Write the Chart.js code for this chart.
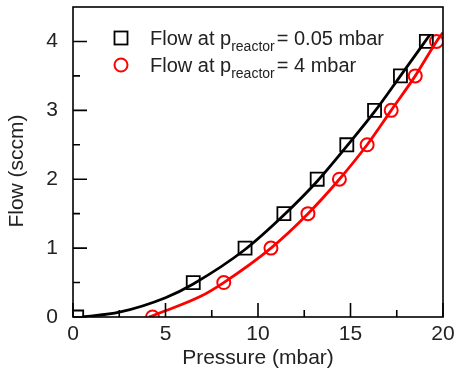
<!DOCTYPE html>
<html>
<head>
<meta charset="utf-8">
<script src="https://cdn.jsdelivr.net/npm/chart.js@4/dist/chart.umd.min.js"></script>
<style>
  html, body { margin: 0; padding: 0; background: #fff; }
  #wrap { width: 458px; height: 377px; }
</style>
</head>
<body>
<div id="wrap"><canvas id="c" width="458" height="377"></canvas></div>
<script>
// measured points, flow (sccm) vs pressure (mbar)
const flowLevels = [0, 0.5, 1, 1.5, 2, 2.5, 3, 3.5, 4];
const pressureLow = [0.2, 6.5, 9.3, 11.4, 13.2, 14.8, 16.3, 17.7, 19.1];    // p_reactor = 0.05 mbar
const pressureHigh = [4.3, 8.15, 10.7, 12.7, 14.4, 15.9, 17.2, 18.5, 19.65]; // p_reactor = 4 mbar

// fit curves
const fitLowP = [0.5, 2.5, 5, 6.5, 9.3, 11.4, 13.2, 14.8, 16.3, 17.7, 19.3];
const fitLowF = [0, 0.07, 0.28, 0.48, 0.98, 1.48, 1.97, 2.48, 2.98, 3.5, 4.1];
const fitHighP = [4.1, 5, 6.9, 8.15, 10.7, 12.7, 14.4, 15.9, 17.2, 18.5, 19.65, 20];
const fitHighF = [0, 0.09, 0.3, 0.5, 1, 1.5, 2, 2.5, 3, 3.5, 4, 4.13];

const legendLabels = ["= 0.05 mbar", "= 4 mbar"];
const yTitle = "Flow (sccm)";

const xMajor = [0, 5, 10, 15, 20];
const xMinor = [2.5, 7.5, 12.5, 17.5];
const yMajor = [0, 1, 2, 3, 4];
const yMinor = [0.5, 1.5, 2.5, 3.5];

const pts = (xs, ys) => xs.map((x, i) => ({ x, y: ys[i] }));

const FONT = "'Liberation Sans', Arial, sans-serif";
const TXT = "#222";

const frame = {
  id: "frame",
  afterDatasetsDraw(chart) {
    const { ctx, chartArea: a, scales: { x, y } } = chart;
    ctx.save();
    ctx.strokeStyle = "#000";
    ctx.lineWidth = 1.6;
    ctx.beginPath();
    xMajor.forEach(v => { const px = x.getPixelForValue(v); ctx.moveTo(px, a.bottom); ctx.lineTo(px, a.bottom - 14); });
    xMinor.forEach(v => { const px = x.getPixelForValue(v); ctx.moveTo(px, a.bottom); ctx.lineTo(px, a.bottom - 7); });
    yMajor.forEach(v => { const py = y.getPixelForValue(v); ctx.moveTo(a.left, py); ctx.lineTo(a.left + 14, py); });
    yMinor.forEach(v => { const py = y.getPixelForValue(v); ctx.moveTo(a.left, py); ctx.lineTo(a.left + 7, py); });
    ctx.stroke();
    ctx.strokeRect(a.left, a.top, a.right - a.left, a.bottom - a.top);

    // legend
    const rows = [38, 65];
    const mx = 121, tx = 150;
    rows.forEach((ry, i) => {
      if (i === 0) {
        ctx.strokeStyle = "#000"; ctx.lineWidth = 1.8;
        ctx.strokeRect(mx - 6.5, ry - 6.5, 13, 13);
      } else {
        ctx.strokeStyle = "#ff0000"; ctx.lineWidth = 2;
        ctx.beginPath(); ctx.arc(mx, ry, 6.5, 0, Math.PI * 2); ctx.stroke();
      }
      ctx.fillStyle = TXT;
      ctx.textBaseline = "alphabetic";
      ctx.textAlign = "left";
      const base = ry + 7;
      ctx.font = "20px " + FONT;
      ctx.fillText("Flow at p", tx, base);
      let cx = tx + ctx.measureText("Flow at p").width;
      ctx.font = "14px " + FONT;
      ctx.fillText("reactor", cx, base + 6);
      cx += ctx.measureText("reactor").width + 2;
      ctx.font = "20px " + FONT;
      ctx.fillText(legendLabels[i], cx, base);
    });

    // y axis title
    ctx.translate(17, 171);
    ctx.rotate(-Math.PI / 2);
    ctx.textAlign = "center";
    ctx.textBaseline = "middle";
    ctx.font = "21px " + FONT;
    ctx.fillText(yTitle, 0, 0);
    ctx.restore();
  }
};

new Chart(document.getElementById("c"), {
  type: "scatter",
  data: {
    datasets: [
      {
        data: pts(fitLowP, fitLowF), showLine: true, borderColor: "#000", borderWidth: 2.8,
        pointRadius: 0, cubicInterpolationMode: "monotone", clip: 0
      },
      {
        data: pts(fitHighP, fitHighF), showLine: true, borderColor: "#ff0000", borderWidth: 2.8,
        pointRadius: 0, cubicInterpolationMode: "monotone", clip: 0
      },
      {
        data: pts(pressureLow, flowLevels), pointStyle: "rect", pointRadius: 9.2,
        borderColor: "#000", borderWidth: 1.8, backgroundColor: "rgba(0,0,0,0)", clip: 0
      },
      {
        data: pts(pressureHigh, flowLevels), pointStyle: "circle", pointRadius: 6.5,
        borderColor: "#ff0000", borderWidth: 2, backgroundColor: "rgba(0,0,0,0)", clip: 0
      }
    ]
  },
  options: {
    responsive: false,
    animation: false,
    devicePixelRatio: 1,
    layout: { autoPadding: false, padding: { left: 0, right: 15, top: 7, bottom: 4 } },
    plugins: { legend: { display: false }, tooltip: { enabled: false } },
    scales: {
      x: {
        type: "linear", min: 0, max: 20,
        grid: { display: false, drawTicks: false },
        border: { display: false },
        afterFit: (s) => { s.height = 56; s.paddingLeft = 0; s.paddingRight = 0; },
        ticks: { stepSize: 5, padding: 5, color: TXT, font: { family: FONT, size: 21 } },
        title: { display: true, text: "Pressure (mbar)", color: TXT, padding: { top: 0, bottom: 2 }, font: { family: FONT, size: 21 } }
      },
      y: {
        type: "linear", min: 0, max: 4.5,
        grid: { display: false, drawTicks: false },
        border: { display: false },
        afterFit: (s) => { s.width = 73; s.paddingTop = 0; s.paddingBottom = 0; },
        afterBuildTicks: (s) => { s.ticks = s.ticks.filter(t => Number.isInteger(t.value)); },
        ticks: { stepSize: 1, padding: 15, color: TXT, font: { family: FONT, size: 21 } }
      }
    }
  },
  plugins: [frame]
});
</script>
</body>
</html>
